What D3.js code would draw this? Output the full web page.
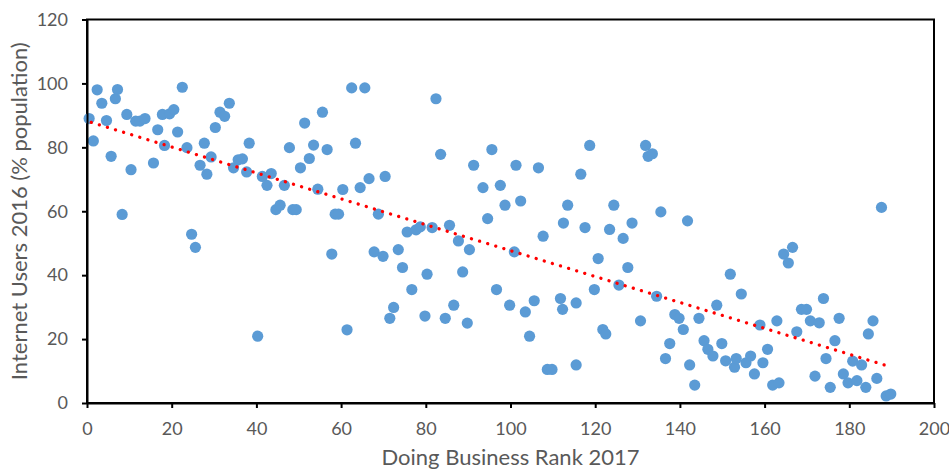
<!DOCTYPE html>
<html>
<head>
<meta charset="utf-8">
<script src="https://cdn.jsdelivr.net/npm/d3@7/dist/d3.min.js"></script>
<style>
  html, body { margin: 0; padding: 0; background: #ffffff; }
  svg { display: block; }
  text { font-family: Lato, "Open Sans", sans-serif; }
</style>
</head>
<body>
<svg id="chart" width="949" height="472"></svg>
<script>
// Doing Business Rank 2017 (x) vs Internet Users 2016 % population (y)
const rankValues = [
  0.5, 1.5, 2.4, 3.5, 4.6, 5.7, 6.7, 7.2, 8.3, 9.4,
  10.4, 11.5, 12.5, 13.7, 15.7, 16.7, 17.8, 18.3, 19.5, 20.5,
  21.4, 22.5, 23.6, 24.7, 25.6, 26.7, 27.7, 28.3, 29.3, 30.3,
  31.4, 32.5, 33.6, 34.6, 35.7, 36.7, 37.7, 38.3, 40.3, 41.4,
  42.5, 43.5, 44.6, 45.6, 46.6, 47.8, 48.6, 49.4, 50.4, 51.4,
  52.5, 53.5, 54.5, 55.6, 56.7, 57.8, 58.6, 59.4, 60.4, 61.4,
  62.5, 63.4, 64.5, 65.6, 66.6, 67.8, 68.8, 69.9, 70.4, 71.5,
  72.4, 73.5, 74.5, 75.6, 76.7, 77.7, 78.7, 79.8, 80.3, 81.5,
  82.4, 83.5, 84.6, 85.6, 86.6, 87.7, 88.7, 89.8, 90.3, 91.3,
  93.5, 94.6, 95.6, 96.7, 97.6, 98.7, 99.8, 100.9, 101.3, 102.4,
  103.5, 104.5, 105.6, 106.6, 107.7, 108.7, 109.8, 111.8, 112.3, 112.5,
  113.5, 115.5, 115.5, 116.6, 117.6, 118.7, 119.8, 120.7, 121.8, 122.5,
  123.4, 124.4, 125.6, 126.6, 127.7, 128.7, 130.7, 131.9, 132.5, 133.5,
  134.5, 135.5, 136.6, 137.6, 138.8, 139.8, 140.8, 141.8, 142.3, 143.5,
  144.5, 145.7, 146.6, 147.8, 148.7, 149.9, 150.8, 151.9, 152.9, 153.3,
  154.5, 155.6, 156.7, 157.6, 158.9, 159.6, 160.7, 161.9, 162.9, 163.4,
  164.5, 165.6, 166.6, 167.6, 168.7, 169.9, 170.8, 171.9, 172.9, 173.9,
  174.5, 175.5, 176.6, 177.6, 178.6, 179.7, 180.8, 181.8, 182.9, 183.9,
  184.5, 185.6, 186.5, 187.6, 188.7, 189.8
];
const internetValues = [
  89, 82, 98, 93.8, 88.4, 77.2, 95.2, 98.1, 59, 90.3,
  73, 88.2, 88.2, 89, 75.1, 85.5, 90.3, 80.6, 90.5, 91.8,
  84.8, 98.8, 79.9, 52.8, 48.7, 74.4, 81.3, 71.6, 77, 86.2,
  91, 89.7, 93.8, 73.6, 76.1, 76.4, 72.3, 81.3, 20.9, 70.9,
  68.1, 71.8, 60.5, 61.9, 68.1, 79.9, 60.5, 60.5, 73.6, 87.6,
  76.5, 80.7, 66.9, 91, 79.3, 46.6, 59.1, 59.1, 66.8, 22.9,
  98.6, 81.3, 67.4, 98.6, 70.2, 47.3, 59.1, 45.9, 70.9, 26.5,
  29.9, 48, 42.4, 53.5, 35.5, 54.2, 55.1, 27.2, 40.3, 54.9,
  95.2, 77.8, 26.5, 55.6, 30.6, 50.7, 41, 25, 48, 74.4,
  67.4, 57.7, 79.3, 35.5, 68.1, 61.9, 30.6, 47.3, 74.4, 63.2,
  28.5, 20.9, 32, 73.6, 52.2, 10.5, 10.5, 32.7, 29.3, 56.3,
  61.9, 31.3, 11.9, 71.6, 54.9, 80.6, 35.5, 45.2, 23, 21.6,
  54.3, 61.9, 36.9, 51.5, 42.4, 56.3, 25.7, 80.6, 77.2, 78,
  33.4, 59.8, 13.9, 18.6, 27.7, 26.5, 23, 57, 11.9, 5.6,
  26.5, 19.5, 16.8, 14.7, 30.6, 18.6, 13.2, 40.3, 11.2, 13.9,
  34.1, 12.6, 14.7, 9.1, 24.4, 12.6, 16.8, 5.6, 25.7, 6.3,
  46.6, 43.8, 48.7, 22.3, 29.3, 29.3, 25.7, 8.4, 25.1, 32.7,
  13.9, 4.9, 19.5, 26.5, 9.1, 6.3, 13.1, 7, 11.9, 4.9,
  21.6, 25.7, 7.7, 61.2, 2.2, 2.8
];
// Linear trendline end points (as shown in the chart)
const trendX = [1, 189];
const trendY = [87.8, 11.6];

const xTicks = [0, 20, 40, 60, 80, 100, 120, 140, 160, 180, 200];
const yTicks = [0, 20, 40, 60, 80, 100, 120];
const xTitle = "Doing Business Rank 2017";
const yTitle = "Internet Users 2016 (% population)";

const svg = d3.select("#chart");
const L = 87, R = 934, T = 19.5, B = 403;

const x = d3.scaleLinear().domain([0, 200]).range([L, R]);
const y = d3.scaleLinear().domain([0, 120]).range([B, T]);

const points = rankValues.map((r, i) => ({ x: r, y: internetValues[i] }));

// plot box
svg.append("rect")
  .attr("x", L).attr("y", T)
  .attr("width", R - L).attr("height", B - T)
  .attr("fill", "none").attr("stroke", "#000").attr("stroke-width", 2);

// points
svg.append("g").selectAll("circle")
  .data(points).join("circle")
  .attr("cx", d => x(d.x))
  .attr("cy", d => y(d.y))
  .attr("r", 5.6)
  .attr("fill", "#5B9BD5");

// trendline
const trend = trendX.map((v, i) => [v, trendY[i]]);
svg.append("path")
  .attr("d", d3.line().x(d => x(d[0])).y(d => y(d[1]))(trend))
  .attr("fill", "none")
  .attr("stroke", "#FF0000")
  .attr("stroke-width", 3.3)
  .attr("stroke-linecap", "round")
  .attr("stroke-dasharray", "0.01 8.45");

// axes
const xAxis = d3.axisBottom(x).tickValues(xTicks).tickSize(5).tickSizeOuter(0).tickPadding(14);
const yAxis = d3.axisLeft(y).tickValues(yTicks).tickSize(5).tickSizeOuter(0).tickPadding(14);

const gx = svg.append("g").attr("transform", `translate(0,${B})`).call(xAxis);
const gy = svg.append("g").attr("transform", `translate(${L},0)`).call(yAxis);

[gx, gy].forEach(g => {
  g.select(".domain").attr("stroke", "#000").attr("stroke-width", 2);
  g.selectAll(".tick line").attr("stroke", "#000").attr("stroke-width", 2);
  g.selectAll(".tick text")
    .attr("fill", "#595959")
    .style("font-family", "Lato, 'Open Sans', sans-serif")
    .style("font-size", "18px");
});

// axis titles
svg.append("text")
  .attr("x", (L + R) / 2).attr("y", 465)
  .attr("text-anchor", "middle")
  .attr("fill", "#595959")
  .style("font-size", "22px")
  .text(xTitle);

svg.append("text")
  .attr("transform", `translate(27,${(T + B) / 2}) rotate(-90)`)
  .attr("text-anchor", "middle")
  .attr("fill", "#595959")
  .style("font-size", "22px")
  .text(yTitle);
</script>
</body>
</html>
